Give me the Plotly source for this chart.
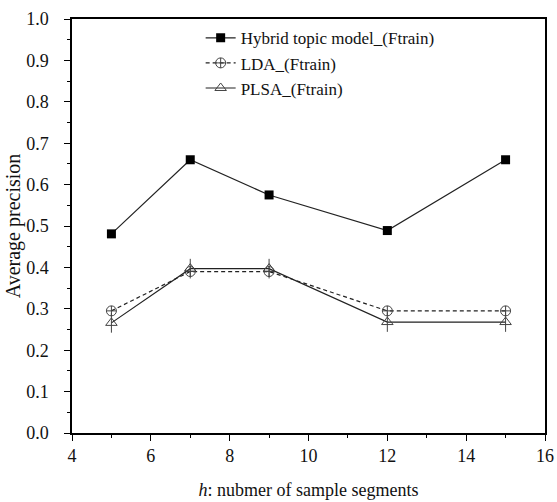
import plotly.graph_objects as go

h_values = [5, 7, 9, 12, 15]
hybrid = [0.481, 0.660, 0.575, 0.489, 0.660]
lda = [0.295, 0.390, 0.390, 0.295, 0.295]
plsa = [0.266, 0.397, 0.397, 0.268, 0.268]

x_ticks = [4, 6, 8, 10, 12, 14, 16]
y_ticks = [round(i * 0.1, 1) for i in range(11)]
y_tick_text = [f"{v:.1f}" for v in y_ticks]

font_family = "Liberation Serif, Times New Roman, serif"
ink = "#222222"

fig = go.Figure()
fig.add_trace(go.Scatter(
    x=h_values, y=hybrid, name="Hybrid topic model_(Ftrain)",
    mode="lines+markers",
    line=dict(color=ink, width=1.2),
    marker=dict(symbol="square", size=9, color="#000000"),
))
fig.add_trace(go.Scatter(
    x=h_values, y=lda, name="LDA_(Ftrain)",
    mode="lines+markers",
    line=dict(color=ink, width=1.2, dash="4px,3px"),
    marker=dict(symbol="circle-cross-open", size=10, color="#444444", line=dict(width=1)),
))
fig.add_trace(go.Scatter(
    x=h_values, y=plsa, name="PLSA_(Ftrain)",
    mode="lines+markers",
    line=dict(color=ink, width=1.2),
    marker=dict(symbol="triangle-up-open", size=10, color="#444444", line=dict(width=1)),
))
fig.add_trace(go.Scatter(
    x=h_values, y=plsa, showlegend=False, hoverinfo="skip",
    mode="markers",
    marker=dict(symbol="line-ns-open", size=14, color="#444444", line=dict(width=1, color="#444444")),
))

axis_common = dict(
    showline=True, linecolor="#000000", linewidth=1.5, mirror=True,
    showgrid=False, zeroline=False, automargin=False,
    ticks="outside", ticklen=6, tickwidth=1.2, tickcolor="#000000",
    tickfont=dict(family=font_family, size=18, color="#111111"),
)

fig.update_layout(
    width=557, height=502,
    margin=dict(l=72, r=12, t=19, b=69),
    paper_bgcolor="white", plot_bgcolor="white",
    font=dict(family=font_family, size=18, color="#111111"),
    xaxis=dict(
        range=[4, 16], tickvals=x_ticks,
        title=dict(text="<i>h</i>: nubmer of sample segments", font=dict(family=font_family, size=18), standoff=18),
        minor=dict(dtick=1, tick0=4, ticks="outside", ticklen=3, tickwidth=1.2, tickcolor="#000000"),
        **axis_common,
    ),
    yaxis=dict(
        range=[0, 1.0], tickvals=y_ticks, ticktext=y_tick_text,
        ticklabelstandoff=12,
        title=dict(text="Average precision", font=dict(family=font_family, size=20), standoff=0),
        minor=dict(dtick=0.05, tick0=0, ticks="outside", ticklen=3, tickwidth=1.2, tickcolor="#000000"),
        **axis_common,
    ),
    legend=dict(
        x=0.272, y=0.997, xanchor="left", yanchor="top",
        bgcolor="rgba(0,0,0,0)", borderwidth=0,
        font=dict(family=font_family, size=17, color="#111111"),
        tracegroupgap=0,
    ),
    showlegend=True,
)

fig.write_html("out.html")
